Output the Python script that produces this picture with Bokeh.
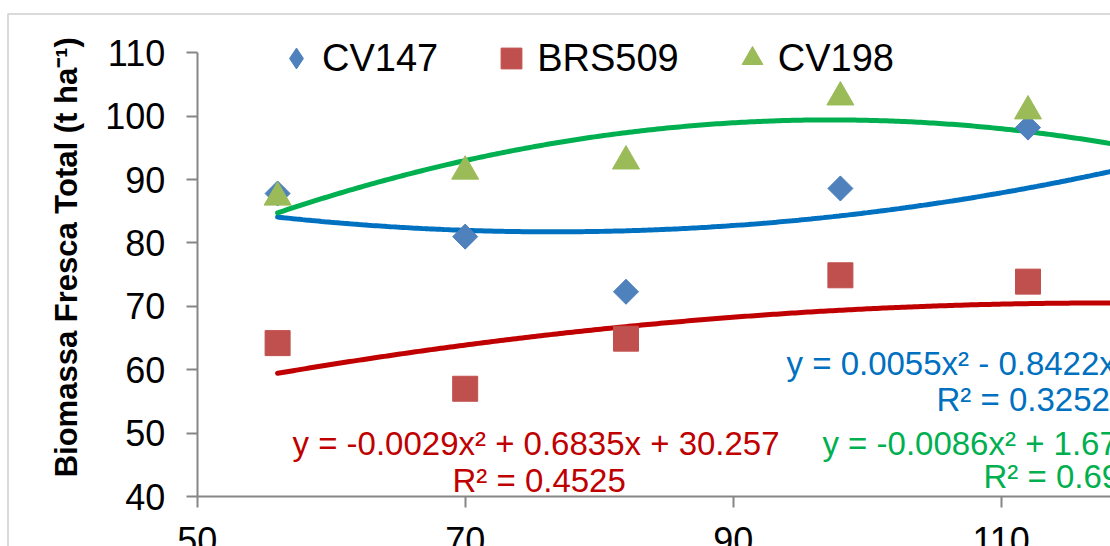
import numpy as np
from bokeh.plotting import figure
from bokeh.models import (FixedTicker, Legend, LegendItem, BoxAnnotation,
                          ColumnDataSource, Range1d)
from bokeh.embed import file_html
from bokeh.resources import INLINE
from bokeh.core.properties import value

# ---------------- data ----------------
days = [56, 70, 82, 98, 112]
cv147 = [87.8, 81.0, 72.3, 88.6, 98.2]
brs509 = [64.2, 57.0, 64.9, 74.9, 73.9]
cv198 = [87.2, 91.3, 92.9, 103.0, 100.8]
series_names = ["CV147", "BRS509", "CV198"]

# 2nd-order polynomial trendlines: a*x^2 + b*x + c
trend_cv147 = [0.0055, -0.8422, 114.0]
trend_brs509 = [-0.0029, 0.6835, 30.257]
trend_cv198 = [-0.0086, 1.6735, 18.0]
trend_span = [56, 126]

eq_cv147 = ["y = 0.0055x² - 0.8422x + 114.03", "R² = 0.3252"]
eq_brs509 = ["y = -0.0029x² + 0.6835x + 30.257", "R² = 0.4525"]
eq_cv198 = ["y = -0.0086x² + 1.6735x + 18.024", "R² = 0.6943"]

x_ticks = [50, 70, 90, 110, 130]
y_ticks = [40, 50, 60, 70, 80, 90, 100, 110]
y_title = "Biomassa Fresca Total (t ha⁻¹)"

# ---------------- figure ----------------
FONT = "Liberation Sans"
AXIS_GRAY = "#868686"

p = figure(width=1110, height=546, output_backend="svg", toolbar_location=None,
           x_range=Range1d(35.321, 118.157), y_range=Range1d(32.116, 118.25),
           min_border_left=0, min_border_right=0,
           min_border_top=0, min_border_bottom=0)
p.title.visible = False
p.outline_line_color = None
p.grid.visible = False
p.background_fill_color = "white"
p.border_fill_color = "white"

# axes (placed inside the full-canvas frame)
p.xaxis.fixed_location = 40
p.yaxis.fixed_location = 50
p.xaxis.bounds = (50, 200)
p.yaxis.bounds = (40, 110)
p.xaxis.ticker = FixedTicker(ticks=x_ticks)
p.yaxis.ticker = FixedTicker(ticks=y_ticks)
for ax in (p.xaxis, p.yaxis):
    ax.axis_line_color = AXIS_GRAY
    ax.axis_line_width = 2
    ax.major_tick_line_color = AXIS_GRAY
    ax.major_tick_line_width = 2
    ax.major_tick_out = 11
    ax.major_tick_in = 0
    ax.minor_tick_line_color = None
    ax.major_label_text_font = FONT
    ax.major_label_text_font_size = "36px"
    ax.major_label_text_color = "black"
p.xaxis.major_label_standoff = 19
p.yaxis.major_label_standoff = 21
# leading no-break spaces nudge the centred title upwards, as in the original
p.yaxis.axis_label = "\u00a0" * 4 + y_title
p.yaxis.axis_label_text_font = FONT
p.yaxis.axis_label_text_font_size = "31px"
p.yaxis.axis_label_text_font_style = "bold"
p.yaxis.axis_label_text_color = "black"
p.yaxis.axis_label_standoff = 18

# outer chart border (left / top edges visible)
p.add_layout(BoxAnnotation(left=35.88, right=140, top=116.12, bottom=20,
                           fill_alpha=0, line_color=AXIS_GRAY, line_width=2))

# trendlines
def poly(coef, xs):
    a, b, c = coef
    return a * xs ** 2 + b * xs + c

xs = np.linspace(trend_span[0], trend_span[1], 300)
for coef, col in ((trend_cv147, "#0070C0"), (trend_brs509, "#C00000"),
                  (trend_cv198, "#00B050")):
    p.line(xs, poly(coef, xs), line_color=col, line_width=5, line_cap="round")

# markers
src = ColumnDataSource(dict(x=days, a=cv147, b=brs509, c=cv198))
# narrow diamond (used by the legend), covered by the rotated-square diamond
r1 = p.scatter("x", "a", source=src, marker="diamond", size=24,
               fill_color="#4F81BD", line_color="#4F81BD")
p.scatter("x", "a", source=src, marker="square", angle=np.pi / 4, size=17.7,
          fill_color="#4F81BD", line_color="#4F81BD")
r2 = p.scatter("x", "b", source=src, marker="square", size=25,
               fill_color="#C0504D", line_color="#C0504D")
r3 = p.scatter("x", "c", source=src, marker="triangle", size=27,
               fill_color="#9BBB59", line_color="#9BBB59")

# trendline equations
def eq_text(lines, xpos, ypos, color):
    p.text(x=xpos, y=ypos, text=lines, text_color=color,
           text_font=value(FONT), text_font_size="33px",
           text_align="left", text_baseline="alphabetic")

eq_text(eq_brs509, [57.11, 69.05], [48.37, 42.53], "#C00000")
eq_text(eq_cv147, [93.98, 105.17], [60.99, 55.31], "#0070C0")
eq_text(eq_cv198, [96.66, 108.68], [48.37, 43.16], "#00B050")

# legend
legend = Legend(items=[LegendItem(label=n, renderers=[r])
                       for n, r in zip(series_names, (r1, r2, r3))],
                orientation="horizontal", location=(270, 457),
                glyph_width=52, glyph_height=62, label_standoff=0,
                spacing=47, padding=0, margin=0,
                border_line_color=None, background_fill_alpha=0,
                label_text_font=FONT, label_text_font_size="38px",
                label_text_color="black")
p.add_layout(legend)

open("out.html", "w").write(file_html(p, INLINE))
